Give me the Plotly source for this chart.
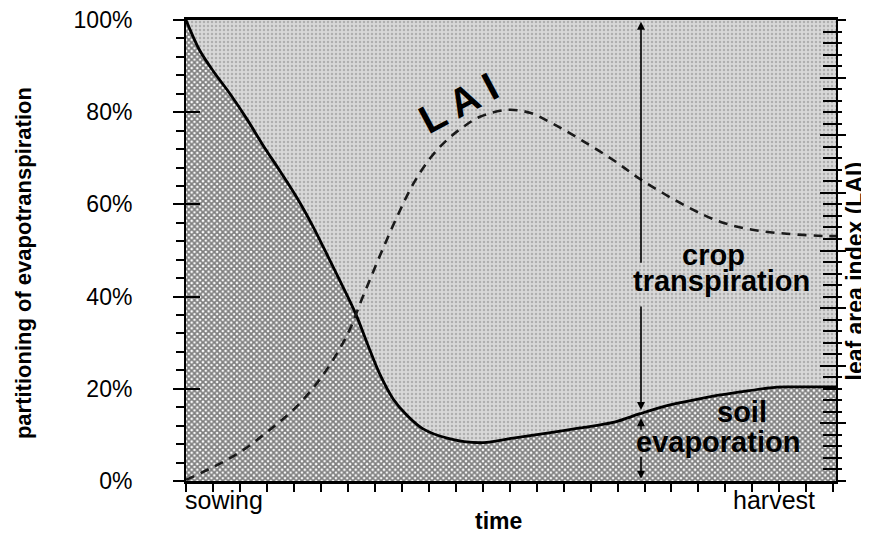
import plotly.graph_objects as go

# ---- data (time in equal steps from sowing to harvest) ----
soil_t = [0, 0.5, 1.0, 1.63, 2.26, 2.86, 3.49, 4.12, 4.71, 5.34, 5.97, 6.34, 6.71, 7.2, 7.68,
          8.2, 8.79, 9.68, 10.9, 12.13, 13.39, 14.61, 15.84, 16.84, 17.95, 19.17, 20.43, 21.65, 22.28, 24.1]
soil_pct = [100, 93.5, 89.0, 84.0, 78.5, 72.8, 67.2, 61.4, 55.2, 47.8, 40.3, 35.6, 30.0, 23.0, 17.8,
            14.2, 11.3, 9.3, 8.3, 9.3, 10.4, 11.5, 12.7, 14.6, 16.5, 18.0, 19.2, 20.2, 20.4, 20.4]

lai_t = [0, 1.0, 2.0, 3.11, 4.12, 5.08, 5.97, 6.56, 7.2, 7.82, 8.42, 9.05, 9.68, 10.27, 10.9, 11.9,
         12.75, 13.6, 14.61, 15.84, 16.84, 18.58, 19.8, 21.0, 22.28, 23.77, 24.1]
lai = [0.02, 0.24, 0.50, 0.89, 1.30, 1.84, 2.53, 3.20, 3.92, 4.58, 5.15, 5.60, 5.92, 6.14, 6.32, 6.44,
       6.39, 6.20, 5.93, 5.57, 5.24, 4.76, 4.50, 4.36, 4.29, 4.25, 4.25]

top_t = [0, 24.1]
top_pct = [100, 100]

FONT = "Liberation Sans, Arial, sans-serif"

fig = go.Figure()

# soil evaporation area
fig.add_trace(go.Scatter(
    x=soil_t, y=soil_pct, mode="lines", line=dict(width=0, shape="spline", smoothing=0.9),
    fill="tozeroy", fillcolor="#ffffff",
    fillpattern=dict(shape="x", size=4, solidity=0.7, fgcolor="#000000", bgcolor="#ffffff"),
    hoverinfo="skip"))
# crop transpiration area
fig.add_trace(go.Scatter(
    x=top_t, y=top_pct, mode="lines", line=dict(width=0),
    fill="tonexty", fillcolor="#d6d6d6",
    fillpattern=dict(shape=".", size=4, solidity=0.3, fgcolor="#858585", bgcolor="#d8d8d8"),
    hoverinfo="skip"))
# boundary line
fig.add_trace(go.Scatter(
    x=soil_t, y=soil_pct, mode="lines",
    line=dict(color="black", width=2.8, shape="spline", smoothing=0.9), hoverinfo="skip"))
# LAI dashed
fig.add_trace(go.Scatter(
    x=lai_t, y=lai, yaxis="y2", mode="lines",
    line=dict(color="#1a1a1a", width=2.6, dash="9px,7px", shape="spline", smoothing=1.0),
    hoverinfo="skip"))
# dummy traces for tick-only overlay axes
fig.add_trace(go.Scatter(x=[0], y=[0], yaxis="y3", mode="none", hoverinfo="skip"))
fig.add_trace(go.Scatter(x=[0], y=[0], yaxis="y4", mode="none", hoverinfo="skip"))

fig.update_layout(
    width=861, height=525,
    margin=dict(l=178, r=33, t=12, b=52, autoexpand=False),
    showlegend=False,
    paper_bgcolor="white", plot_bgcolor="white",
    font=dict(family=FONT, color="black"),
    xaxis=dict(range=[0, 24.1], tickmode="linear", tick0=0, dtick=1, ticks="outside", ticklen=8,
               tickwidth=1.5, tickcolor="black", showticklabels=False, showline=True, linewidth=2.5,
               linecolor="black", mirror=True, showgrid=False, zeroline=False, automargin=False),
    yaxis=dict(range=[0, 100], tickmode="linear", tick0=0, dtick=20, ticksuffix="%", ticks="outside",
               ticklen=11, tickwidth=1.5, tickcolor="black",
               minor=dict(tick0=0, dtick=4, ticks="outside", ticklen=8, tickwidth=1.5, tickcolor="black"),
               showline=True, linewidth=2, linecolor="black", mirror=True, showgrid=False,
               zeroline=False, tickfont=dict(size=23, family=FONT), ticklabelstandoff=36,
               ticklabeloverflow="allow", automargin=False),
    yaxis2=dict(range=[0, 8], overlaying="y", side="right", tickmode="linear", tick0=0, dtick=1,
                ticks="inside", ticklen=16, tickwidth=1.5, tickcolor="black",
                minor=dict(tick0=0, dtick=0.2, ticks="inside", ticklen=13, tickwidth=1.5, tickcolor="black"),
                showticklabels=False, showline=False, showgrid=False, zeroline=False, automargin=False),
    yaxis3=dict(range=[0, 8], overlaying="y", side="right", tickmode="linear", tick0=0, dtick=1,
                ticks="outside", ticklen=9, tickwidth=1.5, tickcolor="black",
                minor=dict(tick0=0, dtick=0.2, ticks="outside", ticklen=5, tickwidth=1.5, tickcolor="black"),
                showticklabels=False, showline=False, showgrid=False, zeroline=False, automargin=False),
    yaxis4=dict(range=[0, 100], overlaying="y", side="left", tickmode="linear", tick0=0, dtick=20,
                ticks="inside", ticklen=14, tickwidth=1.5, tickcolor="black",
                showticklabels=False, showline=False, showgrid=False, zeroline=False, automargin=False),
)

ann = []
def txt(x, y, s, size, bold=True, xref="paper", yref="paper", angle=0, xanchor="center"):
    ann.append(dict(x=x, y=y, xref=xref, yref=yref, text=("<b>%s</b>" % s) if bold else s,
                    showarrow=False, textangle=angle, xanchor=xanchor, yanchor="middle",
                    font=dict(size=size, family=FONT, color="black")))

txt(-0.249, 0.473, "partitioning of evapotranspiration", 22, angle=-90)
txt(1.030, 0.4555, "leaf area index (LAI)", 23, angle=-90)
txt(0.48, -0.087, "time", 23)
txt(-0.005, -0.041, "sowing", 25, bold=False, xanchor="left")
txt(0.905, -0.041, "harvest", 25, bold=False)
txt(19.55, 49.0, "crop", 29, xref="x", yref="y")
txt(19.86, 43.4, "transpiration", 29, xref="x", yref="y")
txt(20.6, 14.9, "soil", 29, xref="x", yref="y")
txt(19.73, 8.4, "evaporation", 29, xref="x", yref="y")
txt(10.1, 82.0, "L A I", 40, xref="x", yref="y", angle=-28)

def arrow(x, yhead, ytail, side="end"):
    ann.append(dict(x=x, y=yhead, ax=x, ay=ytail, xref="x", yref="y", axref="x", ayref="y",
                    text="", showarrow=True, arrowhead=2, arrowsize=1, arrowwidth=1.6,
                    arrowcolor="black", arrowside=side, standoff=0, startstandoff=0))

AX = 16.87
arrow(AX, 99.6, 47.0)
arrow(AX, 15.4, 38.2)
arrow(AX, 13.6, 10.8)
arrow(AX, 0.5, 5.6)

fig.update_layout(annotations=ann)
fig.write_html("out.html")
